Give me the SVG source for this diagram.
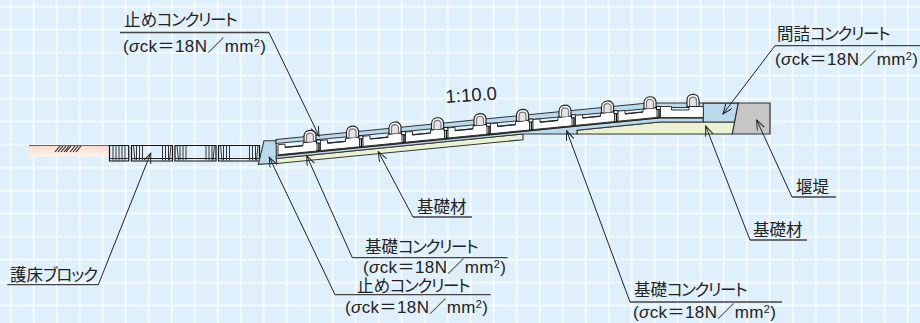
<svg xmlns="http://www.w3.org/2000/svg" width="920" height="323" viewBox="0 0 920 323">
<style>
.t{font-family:"Liberation Sans","Noto Sans CJK JP",sans-serif;font-size:16.5px;fill:#222;font-feature-settings:"palt"}
.p{font-size:17px;letter-spacing:.4px}
.n{letter-spacing:-1.4px}
.u{fill:none;stroke:#444;stroke-width:1.3}
.l{fill:none;stroke:#222;stroke-width:1;marker-end:url(#a)}
.e{stroke:#333;stroke-width:1.1}
.b{fill:#b9d9ec}
.y{fill:#eaf2d0}
.g{stroke:#fff;stroke-width:1.3}
</style>
<defs>
<pattern id="grid" width="23" height="23" patternUnits="userSpaceOnUse" x="-0.5" y="-0.5">
<path d="M11.2 0V23M0 7.2H23" class="g" fill="none"/>
</pattern>
<linearGradient id="pink" x1="0" y1="0" x2="0" y2="1"><stop offset="0" stop-color="#fcd9c9"/><stop offset="1" stop-color="#fdf2ee"/></linearGradient>
<marker id="a" markerUnits="userSpaceOnUse" markerWidth="12" markerHeight="10" refX="10" refY="4" orient="auto"><path d="M0 0L10 4L0 8" fill="none" stroke="#222" stroke-width="1"/></marker>
<g id="unit">
<path d="M0 -.3L7 -.9V2.4L25 .6V-2.5L39 -3.9V6L0 9.8Z" fill="#fff" stroke="#333" stroke-width="1"/>
<path d="M7 2.4L25 .6" fill="none" stroke="#222" stroke-width="1.2"/>
<path d="M41 -4.500V6" fill="none" stroke="#111" stroke-width="1.4"/>
<rect x="38.5" y="-5" width="4" height="3" fill="#fff" stroke="#111" stroke-width="1"/>
<path d="M26 -2.6V-8.5C26 -16.5 38 -16.5 38 -9.5V-3.8Z" fill="#fff" stroke="#222" stroke-width="1.200"/>
<path d="M28.5 -3V-8.5C28.5 -13 35.5 -13 35.5 -9V-3.4" fill="#e4e4e4" stroke="#777" stroke-width="1.200"/>
</g>
<g id="block">
<path d="M0 0H41V15.5H0Z" fill="none" stroke="#111" stroke-width="1.200"/>
<path d="M2 0L3.5 15M5 0V15M8 0V15M11 0V15M31 0V15M34 0V15M37 0V15M39.5 0L38 15" fill="none" stroke="#333" stroke-width="1"/>
<path d="M0 13H41" fill="none" stroke="#222" stroke-width="1"/>
</g>
</defs>
<rect width="920" height="323" fill="#def0fb"/>
<rect width="920" height="323" fill="url(#grid)"/>
<g id="apron">
<rect x="29" y="145.500" width="80" height="11" fill="url(#pink)"/>
<path d="M29 145.500H109" fill="none" stroke="#665" stroke-width="1.200"/>
<path d="M55 152L60 146M58 152L63 146M61 152L66 146M64 152L69 146M66 152L71 146M70 152L75 146M73 152L78 146M76 152L81 146" fill="none" stroke="#222" stroke-width="1.100"/>
</g>
<g id="revetment-blocks">
<path d="M109.500 145.500H128.700V161H109.500Z" fill="none" stroke="#111" stroke-width="1.200"/>
<path d="M113 145.500V161M116 145.500V161M119 145.500V161M122 145.500V161M125 145.500V161M109.500 158.500H128.700" fill="none" stroke="#333"/>
<use href="#block" x="131.500" y="145.500"/>
<use href="#block" x="175" y="145.500"/>
<use href="#block" x="218.500" y="145.500"/>
</g>
<g id="wall-left"><path d="M264 140.700L276 140.700L276.700 163.300L258.300 164.300Z" class="b e"/></g>
<g id="base-left"><path d="M276.300 158.500L523 134V139.700L276.800 163.500Z" class="y e"/></g>
<g id="base-right"><path d="M577 130.200L660 122H735L732.300 134H577Z" class="y e"/></g>
<g id="concrete-lower"><path d="M276 156L660 118H703.300V122H660L577 130.200V134H523L276.300 158.500Z" class="b e"/><path d="M278 155L660 117.300H703" fill="none" stroke="#222" stroke-width="1.800"/></g>
<g id="slab-top"><path d="M276 139.500L648 103H738.300L736 118H703V107.500H660L276 143.500Z" class="b e"/></g>
<g id="infill"><path d="M703.300 103.300H738.300L734.800 122H703.300Z" class="b e"/></g>
<g id="dam"><path d="M738.300 103H770V134H732.300Z" fill="#c6c6c6" stroke="#333" stroke-width="1.200"/></g>
<g id="slab-blocks">
<use href="#unit" transform="translate(278 145)"/>
<use href="#unit" transform="translate(320.500 140.800)"/>
<use href="#unit" transform="translate(363 136.600)"/>
<use href="#unit" transform="translate(405.500 132.400)"/>
<use href="#unit" transform="translate(448 128.200)"/>
<use href="#unit" transform="translate(490.500 124)"/>
<use href="#unit" transform="translate(533 119.800)"/>
<use href="#unit" transform="translate(575.500 115.600)"/>
<use href="#unit" transform="translate(618 111.400)"/>
<path d="M660.500 106.500H671.500V110H689V106.500H703.300V117.500H660.500Z" fill="#fff" stroke="#333"/>
<path d="M687 106.500V100C687 92.500 699 92.500 699 100V106.500Z" fill="#fff" stroke="#222" stroke-width="1.200"/>
<path d="M689.500 106V100.500C689.500 96 696.500 96 696.500 100.500V106" fill="#e4e4e4" stroke="#777" stroke-width="1.200"/>
</g>
<g id="connectors">
<path class="u" d="M120 32.500H269"/><path class="l" d="M269 32.500L319 136"/>
<path class="u" d="M775 45.700H920"/><path class="l" d="M775 45.700L723 114"/>
<path class="u" d="M792 197H836"/><path class="l" d="M792 197L756.700 120"/>
<path class="u" d="M750 240H807"/><path class="l" d="M750 240L705.700 126"/>
<path class="u" d="M630 302H782"/><path class="l" d="M630 302L566.700 130.700"/>
<path class="u" d="M413 217H472"/><path class="l" d="M413 217L378.300 151.700"/>
<path class="u" d="M352.300 257.700H507.700"/><path class="l" d="M352.300 257.700L306.700 155.700"/>
<path class="u" d="M335 294.700H490.700"/><path class="l" d="M335 294.700L269.300 157.300"/>
<path class="u" d="M7.300 284.700H98.300"/><path class="l" d="M98.300 284.700L150.700 153.300"/>
</g>
<g id="labels">
<text class="t" x="124" y="26">止め<tspan class="n">コンクリート</tspan></text>
<text class="t p" x="123" y="52">(<tspan font-style="italic">σ</tspan>ck＝18N／mm<tspan font-size="11" dy="-5">2</tspan><tspan dy="5">)</tspan></text>
<text class="t" x="777" y="40">間詰<tspan class="n">コンクリート</tspan></text>
<text class="t p" x="775" y="65">(<tspan font-style="italic">σ</tspan>ck＝18N／mm<tspan font-size="11" dy="-5">2</tspan><tspan dy="5">)</tspan></text>
<text class="t" x="796" y="193">堰堤</text>
<text class="t" x="753" y="236">基礎材</text>
<text class="t" x="634" y="296">基礎<tspan class="n">コンクリート</tspan></text>
<text class="t p" x="633" y="318">(<tspan font-style="italic">σ</tspan>ck＝18N／mm<tspan font-size="11" dy="-5">2</tspan><tspan dy="5">)</tspan></text>
<text class="t" x="417" y="213">基礎材</text>
<text class="t" x="365" y="253">基礎<tspan class="n">コンクリート</tspan></text>
<text class="t p" x="363" y="273">(<tspan font-style="italic">σ</tspan>ck＝18N／mm<tspan font-size="11" dy="-5">2</tspan><tspan dy="5">)</tspan></text>
<text class="t" x="357" y="292">止め<tspan class="n">コンクリート</tspan></text>
<text class="t p" x="345" y="313">(<tspan font-style="italic">σ</tspan>ck＝18N／mm<tspan font-size="11" dy="-5">2</tspan><tspan dy="5">)</tspan></text>
<text class="t" x="10" y="281">護床<tspan letter-spacing="-1.1">ブロック</tspan></text>
<text class="t" style="font-size:18.5px" transform="rotate(-4 446 103)" x="446" y="103">1:10.0</text>
</g>
</svg>
